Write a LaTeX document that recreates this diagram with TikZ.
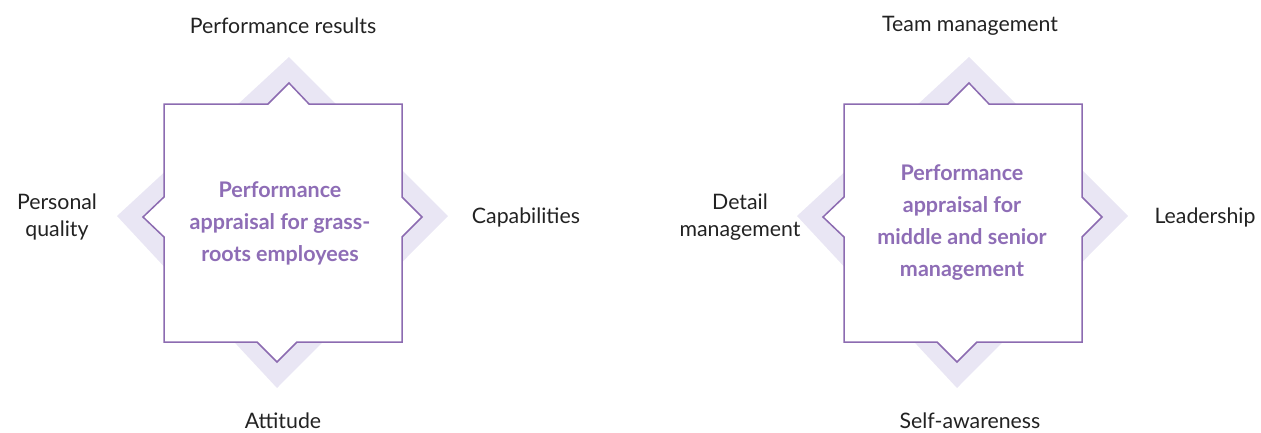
\documentclass[tikz,border=0pt]{standalone}
\usepackage{fontspec}
\setmainfont{Lato}
\usetikzlibrary{positioning}
\definecolor{apline}{HTML}{8C6BB1}
\definecolor{aptext}{HTML}{8E6DB6}
\definecolor{apback}{HTML}{E9E6F4}
\definecolor{aplabel}{HTML}{222222}

\tikzset{
  outer/.style={text=aplabel, font=\fontsize{21.3}{27}\selectfont, align=center},
  inner/.style={text=aptext, font=\fontsize{21.5}{32}\selectfont\bfseries, align=center},
  frame/.style={draw=apline, line width=1.5pt, fill=white, line join=miter},
}

\begin{document}
\begin{tikzpicture}[x=1pt, y=-1pt]
  \useasboundingbox (0,0) rectangle (1261,432);

  % left block
  \begin{scope}[shift={(283,222)}]
    \fill[apback] (6,-165) -- (165,-6) -- (-6,166) -- (-166,-6) -- cycle;
    \draw[frame] (-119,-118) -- (-15,-118) -- (6,-139) -- (26,-118) -- (119,-118)
      -- (119,-25) -- (139,-5) -- (119,15) -- (119,120)
      -- (14,120) -- (-6,140) -- (-26,120) -- (-119,120)
      -- (-119,15) -- (-140,-5) -- (-119,-25) -- cycle;
  \end{scope}
  \node[inner] (grass) at (280,223) {Performance\\appraisal for grass-\\roots employees};
  \node[outer] (result) at (283,26) {Performance results};
  \node[outer] (quality) at (57,217) {Personal\\quality};
  \node[outer] (capab) at (526,217) {Capabilities};
  \node[outer] (attit) at (283,421) {Attitude};

  % right block
  \begin{scope}[shift={(963,222)}]
    \fill[apback] (6,-165) -- (165,-6) -- (-6,166) -- (-166,-6) -- cycle;
    \draw[frame] (-119,-118) -- (-15,-118) -- (6,-139) -- (26,-118) -- (119,-118)
      -- (119,-25) -- (139,-5) -- (119,15) -- (119,120)
      -- (14,120) -- (-6,140) -- (-26,120) -- (-119,120)
      -- (-119,15) -- (-140,-5) -- (-119,-25) -- cycle;
  \end{scope}
  \node[inner] (senior) at (962,223) {Performance\\appraisal for\\middle and senior\\management};
  \node[outer] (team) at (970,26) {Team management};
  \node[outer] (detail) at (740,217) {Detail\\management};
  \node[outer] (leader) at (1205,217) {Leadership};
  \node[outer] (selfaw) at (970,421) {Self-awareness};
\end{tikzpicture}
\end{document}
